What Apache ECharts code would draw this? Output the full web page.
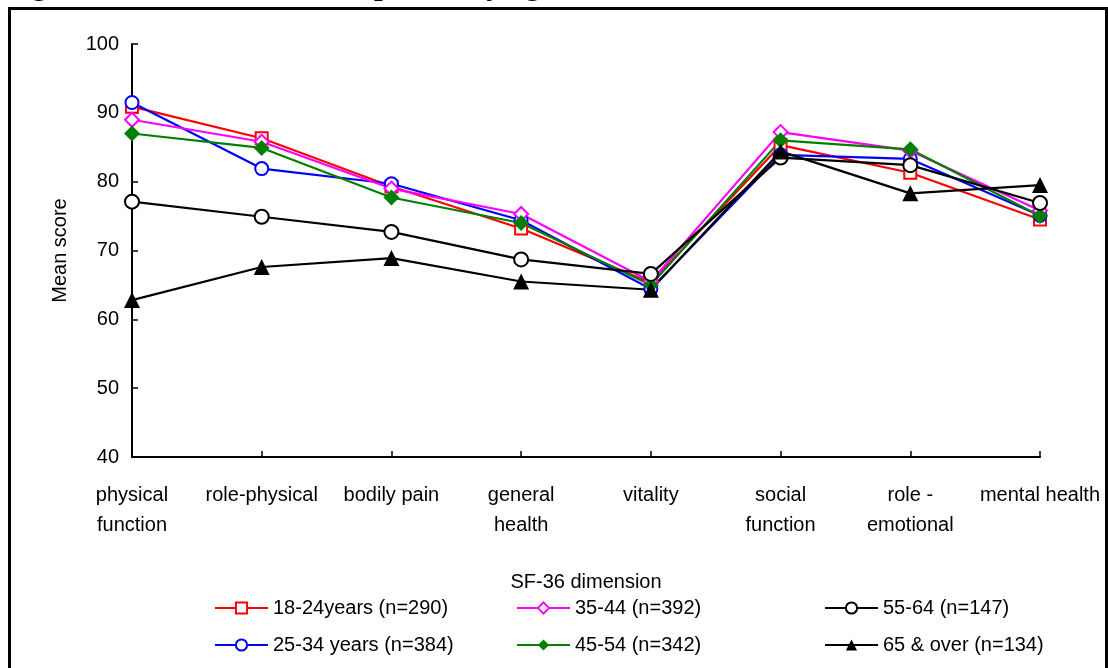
<!DOCTYPE html>
<html>
<head>
<meta charset="utf-8">
<script src="https://cdn.jsdelivr.net/npm/echarts@6/dist/echarts.min.js"></script>
<style>
  html, body { margin: 0; padding: 0; background: #fff; }
  #chart { width: 1108px; height: 668px; }
</style>
</head>
<body>
<div id="chart"></div>
<script>
const categories = ['physical\nfunction', 'role-physical', 'bodily pain', 'general\nhealth', 'vitality', 'social\nfunction', 'role -\nemotional', 'mental health'];
const yTicks = { min: 40, max: 100, interval: 10 };

const s18_24 = [90.9, 86.3, 79.3, 73.2, 65.3, 85.3, 81.3, 74.5];
const s25_34 = [91.5, 81.9, 79.7, 74.4, 64.4, 83.9, 83.3, 75.1];
const s35_44 = [89.0, 85.8, 79.0, 75.3, 65.5, 87.2, 84.5, 75.8];
const s45_54 = [87.0, 84.9, 77.7, 74.0, 65.0, 86.0, 84.7, 75.0];
const s55_64 = [77.1, 74.9, 72.7, 68.7, 66.6, 83.5, 82.4, 76.9];
const s65_over = [62.8, 67.6, 68.9, 65.5, 64.3, 84.4, 78.3, 79.5];

const seriesNames = ['18-24years (n=290)', '25-34 years (n=384)', '35-44 (n=392)', '45-54 (n=342)', '55-64 (n=147)', '65 & over (n=134)'];

const FONT = '"Liberation Sans", Arial, sans-serif';

function mk(name, data, color, symbol, size, hollow) {
  return {
    name: name,
    type: 'line',
    data: data,
    symbol: symbol,
    symbolSize: size,
    showAllSymbol: true,
    lineStyle: { color: color, width: 2.2 },
    itemStyle: hollow
      ? { color: '#ffffff', borderColor: color, borderWidth: 2 }
      : { color: color, borderColor: color, borderWidth: 0 },
    emphasis: { disabled: true },
    animation: false
  };
}

const chart = echarts.init(document.getElementById('chart'), null, { renderer: 'canvas' });

const legendCommon = {
  orient: 'vertical',
  itemWidth: 53,
  itemHeight: 14,
  itemGap: 17,
  textStyle: { fontFamily: FONT, fontSize: 20, color: '#000' },
  selectedMode: false,
  padding: 0
};

chart.setOption({
  backgroundColor: '#ffffff',
  animation: false,
  graphic: [
    {
      type: 'rect',
      shape: { x: 9.5, y: 8.5, width: 1097, height: 700 },
      style: { fill: 'none', stroke: '#000', lineWidth: 3 },
      silent: true
    },
    {
      type: 'text',
      left: 4,
      top: -30,
      style: {
        text: 'Figure 4: SF-36 mean score profile by age, NSW 1997',
        font: 'bold 31px "Liberation Serif", "Times New Roman", serif',
        fill: '#000'
      },
      silent: true
    }
  ],
  grid: { left: 132, right: 68, top: 44, bottom: 211, containLabel: false },
  legend: [
    Object.assign({}, legendCommon, { left: 214, top: 598, data: [seriesNames[0], seriesNames[1]] }),
    Object.assign({}, legendCommon, { left: 516, top: 598, data: [seriesNames[2], seriesNames[3]] }),
    Object.assign({}, legendCommon, { left: 824, top: 598, data: [seriesNames[4], seriesNames[5]] })
  ],
  xAxis: {
    type: 'category',
    data: categories,
    boundaryGap: false,
    name: 'SF-36 dimension',
    nameLocation: 'middle',
    nameGap: 115,
    nameTextStyle: { fontFamily: FONT, fontSize: 20, color: '#000' },
    axisLine: { lineStyle: { color: '#000', width: 2 } },
    axisTick: { inside: true, length: 6, lineStyle: { color: '#000', width: 1.5 } },
    axisLabel: { fontFamily: FONT, fontSize: 20, color: '#000', margin: 23, lineHeight: 30, interval: 0, verticalAlign: 'top' },
    splitLine: { show: false }
  },
  yAxis: {
    type: 'value',
    min: yTicks.min,
    max: yTicks.max,
    interval: yTicks.interval,
    name: 'Mean score',
    nameLocation: 'middle',
    nameGap: 62,
    nameTextStyle: { fontFamily: FONT, fontSize: 20, color: '#000' },
    axisLine: { show: true, lineStyle: { color: '#000', width: 2 } },
    axisTick: { show: true, inside: true, length: 6, lineStyle: { color: '#000', width: 1.5 } },
    axisLabel: { fontFamily: FONT, fontSize: 20, color: '#000', margin: 13 },
    splitLine: { show: false }
  },
  series: [
    mk(seriesNames[0], s18_24, '#FF0000', 'rect', 12, true),
    mk(seriesNames[1], s25_34, '#0000FF', 'circle', 13, true),
    mk(seriesNames[2], s35_44, '#FF00FF', 'diamond', 14, true),
    mk(seriesNames[3], s45_54, '#008000', 'diamond', 16, false),
    mk(seriesNames[4], s55_64, '#000000', 'circle', 14, true),
    mk(seriesNames[5], s65_over, '#000000', 'triangle', 16, false)
  ]
});
</script>
</body>
</html>
